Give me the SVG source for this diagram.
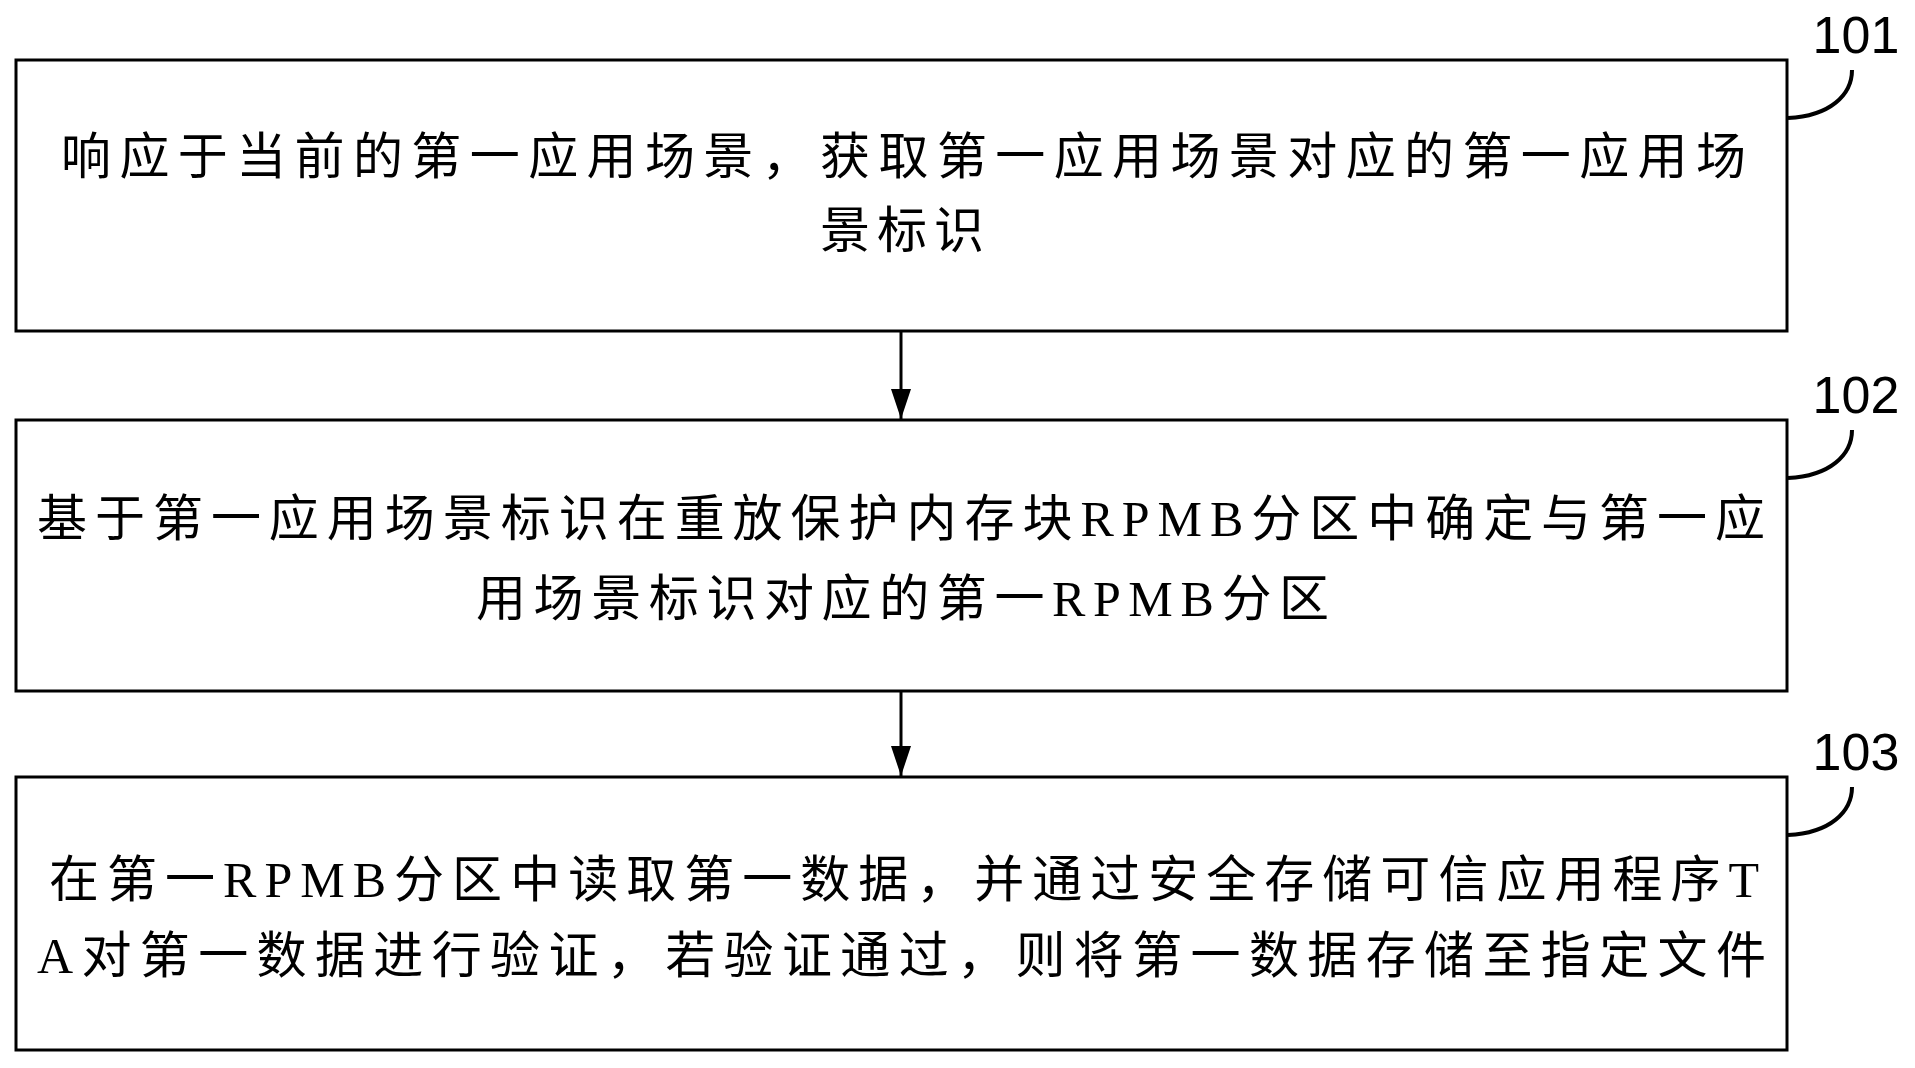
<svg xmlns="http://www.w3.org/2000/svg" width="1915" height="1068" viewBox="0 0 1915 1068">
<style>
.box{fill:#fff;stroke:#000;stroke-width:3}
.t{font-family:"Liberation Serif","Noto Sans CJK SC",serif;font-size:50px;fill:#000}
.n{font-family:"Liberation Sans",Arial,sans-serif;font-size:52px;fill:#000}
.c{fill:none;stroke:#000;stroke-width:4}
.e{stroke:#000;stroke-width:3;fill:none}
</style>
<defs>
<marker id="ah" viewBox="0 0 30 20" refX="30" refY="10" markerWidth="30" markerHeight="20" orient="auto" markerUnits="userSpaceOnUse"><path d="M0,0 L30,10 L0,20 Z" fill="#000"/></marker></defs>
<rect width="1915" height="1068" fill="#fff"/>
<g id="connectors">
<line class="e" x1="901" y1="331" x2="901" y2="419" marker-end="url(#ah)"/>
<line class="e" x1="901" y1="691" x2="901" y2="776" marker-end="url(#ah)"/>
</g>
<g id="n101">
<rect class="box" x="16" y="60" width="1771" height="271"/>
<text class="t" x="61" y="174" textLength="1685" lengthAdjust="spacing">响应于当前的第一应用场景，获取第一应用场景对应的第一应用场</text>
<text class="t" x="820" y="248" textLength="164" lengthAdjust="spacing">景标识</text>
<path class="c" d="M1788,118 C1830,116 1852,95 1852,70"/>
<text class="n" x="1856" y="53" text-anchor="middle">101</text>
</g>
<g id="n102">
<rect class="box" x="16" y="420" width="1771" height="271"/>
<text class="t" x="37" y="536" textLength="1728" lengthAdjust="spacing">基于第一应用场景标识在重放保护内存块RPMB分区中确定与第一应</text>
<text class="t" x="476" y="616" textLength="853" lengthAdjust="spacing">用场景标识对应的第一RPMB分区</text>
<path class="c" d="M1788,478 C1830,476 1852,455 1852,430"/>
<text class="n" x="1856" y="413" text-anchor="middle">102</text>
</g>
<g id="n103">
<rect class="box" x="16" y="777" width="1771" height="273"/>
<text class="t" x="49" y="897" textLength="1710" lengthAdjust="spacing">在第一RPMB分区中读取第一数据，并通过安全存储可信应用程序T</text>
<text class="t" x="37" y="973" textLength="1729" lengthAdjust="spacing">A对第一数据进行验证，若验证通过，则将第一数据存储至指定文件</text>
<path class="c" d="M1788,835 C1830,833 1852,812 1852,787"/>
<text class="n" x="1856" y="770" text-anchor="middle">103</text>
</g>
</svg>
